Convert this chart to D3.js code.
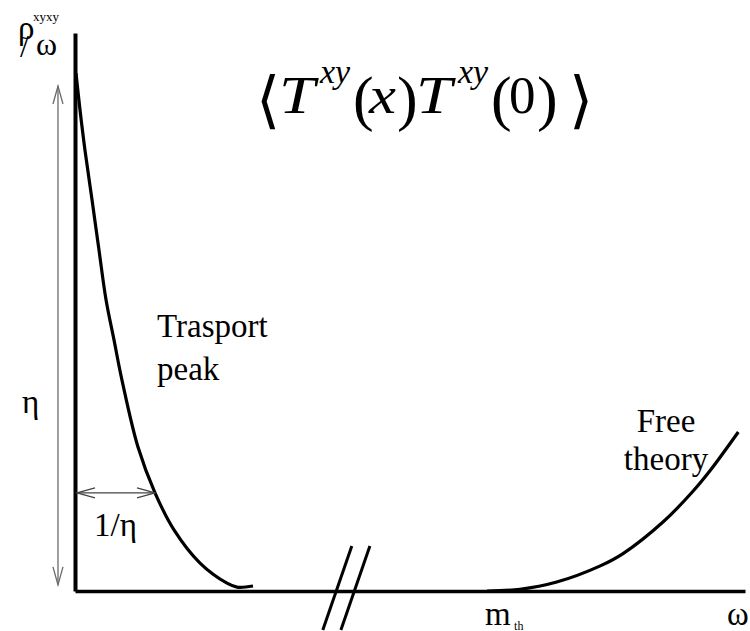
<!DOCTYPE html>
<html>
<head>
<meta charset="utf-8">
<script src="https://cdn.jsdelivr.net/npm/d3@7"></script>
<style>
  html, body { margin: 0; padding: 0; background: #fff; }
  svg { display: block; }
</style>
</head>
<body>
<svg id="chart" width="750" height="631"></svg>
<script>
// Spectral function rho^{xyxy}/omega sketch (arbitrary units)
// Transport peak: omega and rho/omega values
const peakOmega = [0.015, 0.075, 0.149, 0.254, 0.358, 0.463, 0.582, 0.701, 0.940, 1.194, 1.480, 1.866, 2.269, 2.418, 2.657];
const peakRho   = [9.28, 8.62, 7.90, 7.01, 6.11, 5.22, 4.50, 3.78, 2.58, 1.76, 1.09, 0.50, 0.14, 0.07, 0.09];

// Free theory continuum above threshold m_th
const freeOmega = [6.15, 6.64, 7.19, 7.84, 8.18, 8.78, 9.21, 9.48, 9.90];
const freeRho   = [0.00, 0.03, 0.16, 0.45, 0.67, 1.24, 1.77, 2.16, 2.85];

const mth = 6.15;               // threshold
const etaHeight = [0.11, 9.05]; // vertical extent of the eta arrow
const etaArrowOmega = -0.254;
const widthLevel = 1.76;        // height where the 1/eta width is marked
const widthSpan = [0.03, 1.194];
const axisBreaks = [3.90, 4.17];

const SERIF = "Liberation Serif";

const svg = d3.select("#chart");

const x = d3.scaleLinear().domain([0, 10]).range([75, 745]);
const y = d3.scaleLinear().domain([0, 10]).range([591, 33]);

// arrowheads (open V)
const defs = svg.append("defs");
function marker(id, color) {
  defs.append("marker")
    .attr("id", id)
    .attr("markerUnits", "userSpaceOnUse")
    .attr("viewBox", "-20 -7 22 14")
    .attr("refX", 0).attr("refY", 0)
    .attr("markerWidth", 22).attr("markerHeight", 14)
    .attr("orient", "auto-start-reverse")
    .append("path")
    .attr("d", "M-18,-5 L0,0 L-18,5")
    .attr("fill", "none")
    .attr("stroke", color)
    .attr("stroke-width", 1.3);
}
marker("arrV", "#6a6a6a");
marker("arrH", "#444");

// axes without ticks
const xAxis = d3.axisBottom(x).tickValues([]).tickSizeOuter(0);
const yAxis = d3.axisLeft(y).tickValues([]).tickSizeOuter(0);
svg.append("g").attr("transform", `translate(0,${y(0)})`).call(xAxis)
  .select(".domain").attr("stroke", "#000").attr("stroke-width", 3.5);
svg.append("g").attr("transform", `translate(${x(0)},0)`).call(yAxis)
  .select(".domain").attr("stroke", "#000").attr("stroke-width", 4);

// axis break marks
const breakTop = [15.5, -45], breakBottom = [-13.5, 39];
svg.append("g").selectAll("line").data(axisBreaks).join("line")
  .attr("x1", d => x(d) + breakTop[0]).attr("y1", y(0) + breakTop[1])
  .attr("x2", d => x(d) + breakBottom[0]).attr("y2", y(0) + breakBottom[1])
  .attr("stroke", "#000").attr("stroke-width", 3);

const line = d3.line().x(d => x(d[0])).y(d => y(d[1])).curve(d3.curveCatmullRom.alpha(0.5));

svg.append("path")
  .datum(d3.zip(peakOmega, peakRho))
  .attr("d", line)
  .attr("fill", "none").attr("stroke", "#000").attr("stroke-width", 3.2);

svg.append("path")
  .datum(d3.zip(freeOmega, freeRho))
  .attr("d", line)
  .attr("fill", "none").attr("stroke", "#000").attr("stroke-width", 3.2);

// eta arrow
svg.append("line")
  .attr("x1", x(etaArrowOmega)).attr("x2", x(etaArrowOmega))
  .attr("y1", y(etaHeight[0])).attr("y2", y(etaHeight[1]))
  .attr("stroke", "#6a6a6a").attr("stroke-width", 1.3)
  .attr("marker-start", "url(#arrV)").attr("marker-end", "url(#arrV)");

// 1/eta width arrow
svg.append("line")
  .attr("x1", x(widthSpan[0])).attr("x2", x(widthSpan[1]))
  .attr("y1", y(widthLevel)).attr("y2", y(widthLevel))
  .attr("stroke", "#444").attr("stroke-width", 1.3)
  .attr("marker-start", "url(#arrH)").attr("marker-end", "url(#arrH)");

// labels
function label(txt, px, py, size, opts = {}) {
  const t = svg.append("text")
    .attr("x", px).attr("y", py)
    .attr("font-size", size)
    .attr("font-style", opts.italic ? "italic" : "normal")
    .attr("text-anchor", opts.anchor || "start")
    .attr("fill", "#000")
    .style("font-family", opts.family || SERIF)
    .text(txt);
  if (opts.width) t.attr("textLength", opts.width).attr("lengthAdjust", "spacingAndGlyphs");
  return t;
}

// y-axis label rho^{xyxy} / omega
label("ρ", 18, 39, 33);
label("xyxy", 33, 21, 13);
label("/", 20, 57, 32);
label("ω", 36, 55, 32);

// correlator title <T^{xy}(x) T^{xy}(0)>
label("⟨", 256, 121, 62);
label("T", 279, 113, 53, { italic: true, width: 36 });
label("xy", 320, 83, 34, { italic: true });
label("(", 353, 119, 62);
label("x", 369, 113, 53, { italic: true, width: 27 });
label(")", 397, 119, 62);
label("T", 416, 113, 53, { italic: true, width: 36 });
label("xy", 458, 83, 34, { italic: true });
label("(", 491, 119, 62);
label("0", 509, 113, 53);
label(")", 537, 119, 62);
label("⟩", 569, 121, 62);

label("η", 22, 413, 33);
label("1/η", 94, 536, 33);

label("Trasport", 157, 337, 33);
label("peak", 157, 380, 33);

label("Free", 666, 432, 33, { anchor: "middle" });
label("theory", 666, 470, 33, { anchor: "middle" });

label("m", x(mth) - 2, 625, 33);
label("th", x(mth) + 27, 630, 12);
label("ω", 727, 625, 33);
</script>
</body>
</html>
